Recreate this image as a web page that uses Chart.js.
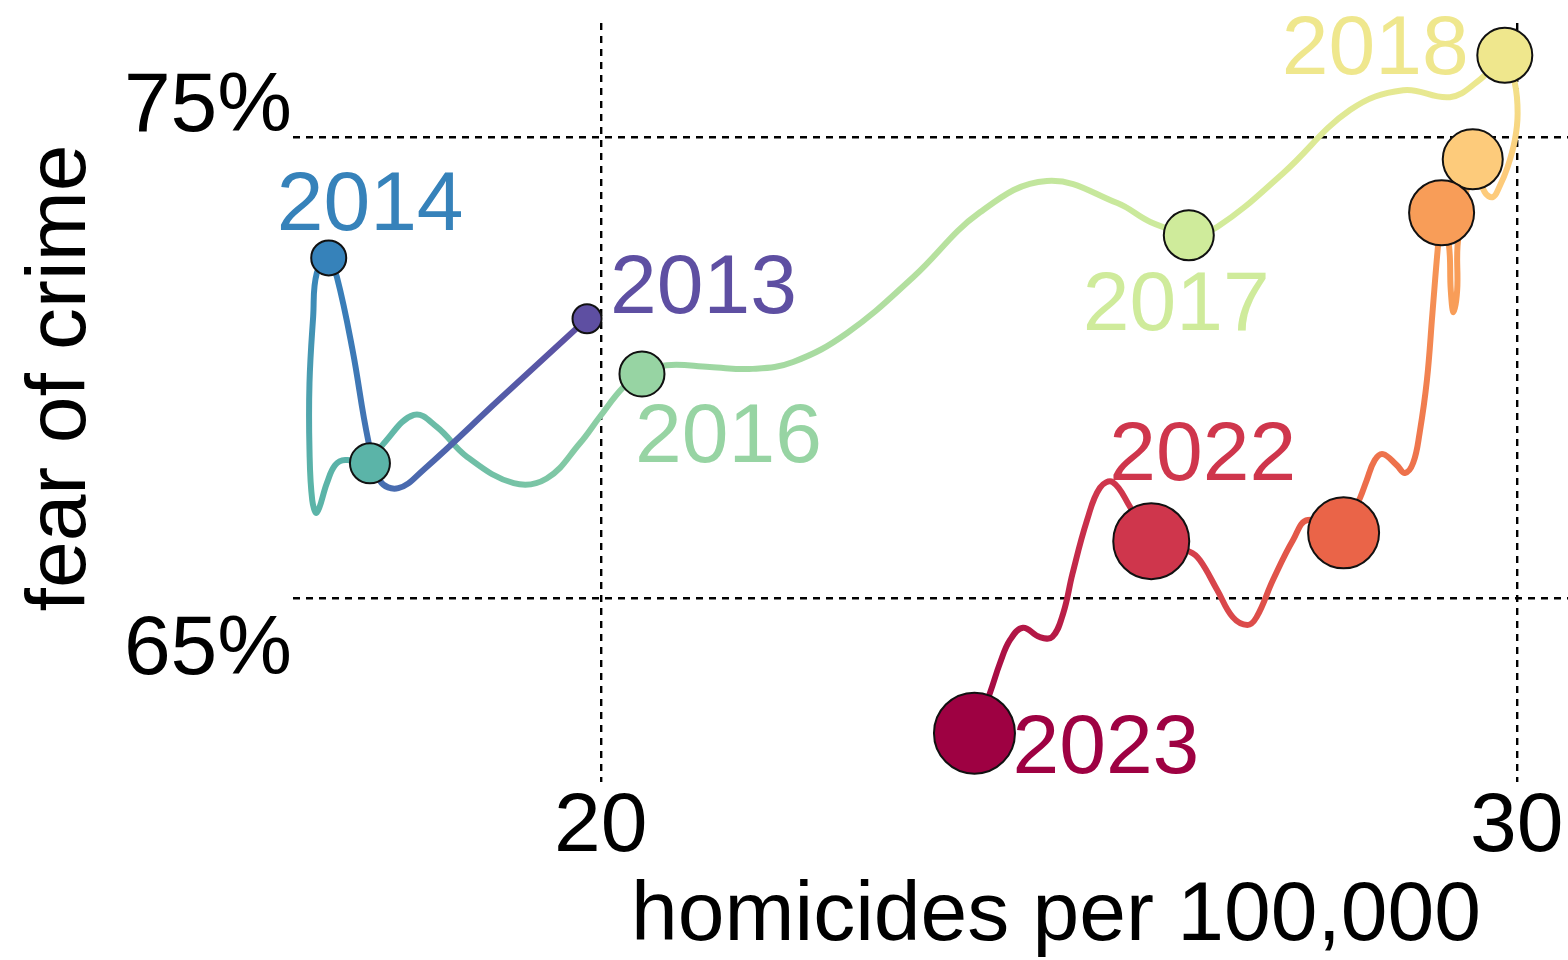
<!DOCTYPE html>
<html>
<head>
<meta charset="utf-8">
<script src="https://cdn.jsdelivr.net/npm/chart.js@4.4.1/dist/chart.umd.min.js"></script>
<style>
  html, body { margin: 0; padding: 0; background: #ffffff; overflow: hidden; }
  #wrap { width: 1568px; height: 960px; position: relative; }
</style>
</head>
<body>
<div id="wrap"><canvas id="c" width="1568" height="960"></canvas></div>
<script>
// ---------- data ----------
const years = [2013, 2014, 2015, 2016, 2017, 2018, 2019, 2020, 2021, 2022, 2023];
const homicides = [19.85, 17.03, 17.48, 20.45, 26.42, 29.87, 29.52, 29.18, 28.11, 26.01, 24.08];
const fearOfCrime = [71.07, 72.39, 67.93, 69.87, 72.88, 76.79, 74.53, 73.37, 66.42, 66.24, 62.07];
const labelledYears = [2013, 2014, 2016, 2017, 2018, 2022, 2023];

// waypoints of the drawn trail between one year and the next
const trailX = [
  [18.90, 18.06, 17.79, 17.59, 17.46, 17.29, 17.12],
  [16.90, 16.86, 16.82, 16.82, 16.85, 16.90, 17.01, 17.10, 17.21],
  [17.63, 17.96, 18.21, 18.54, 19.05, 19.41, 19.77, 19.99, 20.25],
  [20.72, 21.19, 21.66, 22.10, 22.69, 23.41, 24.14, 24.87, 25.64, 26.00],
  [26.73, 27.45, 28.18, 28.76, 29.27, 29.56],
  [29.98, 30.01, 29.98, 29.90, 29.81, 29.74, 29.65],
  [29.36, 29.35, 29.31, 29.28, 29.26],
  [29.14, 29.08, 29.02, 28.94, 28.87, 28.78, 28.69, 28.54, 28.45, 28.36, 28.29],
  [27.72, 27.56, 27.34, 27.16, 27.06, 26.90, 26.73, 26.54, 26.43],
  [25.78, 25.59, 25.45, 25.31, 25.15, 25.05, 24.93, 24.79, 24.61, 24.47, 24.36, 24.25]
];
const trailY = [
  [69.33, 67.78, 67.39, 67.55, 68.44, 70.39, 71.97],
  [72.06, 71.11, 69.67, 68.22, 67.13, 66.86, 67.50, 67.89, 68.00],
  [68.36, 68.98, 68.72, 68.07, 67.50, 67.60, 68.36, 68.94, 69.59],
  [70.06, 70.02, 69.98, 70.13, 70.76, 71.97, 73.38, 74.06, 73.58, 73.17],
  [73.06, 74.23, 75.60, 76.03, 75.88, 76.20],
  [76.18, 75.53, 74.95, 74.36, 73.93, 73.71, 73.82],
  [72.78, 71.69, 71.21, 71.69, 72.67],
  [72.63, 71.19, 69.74, 68.59, 67.94, 67.72, 67.89, 68.13, 68.00, 67.55, 67.18],
  [66.70, 66.27, 65.40, 64.59, 64.42, 64.59, 65.18, 65.83, 66.01],
  [66.98, 67.52, 67.40, 66.70, 65.53, 64.68, 64.16, 64.16, 64.36, 64.10, 63.60, 62.95]
];

const xTickValues = [20, 30];
const yTickValues = [65, 75];
const yTickLabels = ['65%', '75%'];

// ---------- styles ----------
const FONT = '"Liberation Sans", Arial, Helvetica, sans-serif';
const FS = 84;
const TRAIL_WIDTH = 6;
const GRID_WIDTH = 2.4;
const yearColors = ['#5e4fa2', '#3682ba', '#5bb4a8', '#97d4a3', '#cfeb9b', '#efe78d',
                    '#fdcb7b', '#f89d58', '#ea6448', '#cf364c', '#9e0142'];
const markerRadii = [14.5, 17.5, 20, 22.5, 25, 27.5, 30, 32.5, 35.5, 38, 40.5];
// label anchor offsets (px) relative to the marker centre: left edge / baseline
const labelOffsets = {
  2013: [23, -6], 2014: [-52, -28], 2016: [-7, 88], 2017: [-106, 95],
  2018: [-223, 19], 2022: [-42, -61], 2023: [38, 40]
};

const markers = years.map((y, i) => ({ x: homicides[i], y: fearOfCrime[i] }));

// one line dataset per year-to-year stretch, coloured with a gradient between the two years
const trailDatasets = [];
for (let i = 0; i < years.length - 1; i++) {
  const pts = [{ x: homicides[i], y: fearOfCrime[i] }];
  trailX[i].forEach((xv, k) => pts.push({ x: xv, y: trailY[i][k] }));
  pts.push({ x: homicides[i + 1], y: fearOfCrime[i + 1] });
  trailDatasets.push({
    type: 'line',
    data: pts,
    order: 1,
    clip: false,
    fill: false,
    tension: 0.4,
    borderWidth: TRAIL_WIDTH,
    borderCapStyle: 'round',
    borderJoinStyle: 'round',
    pointRadius: 0,
    pointHoverRadius: 0,
    pointHitRadius: 0,
    borderColor: (c) => {
      const chart = c.chart;
      if (!chart.chartArea || !chart.scales.x) return yearColors[i];
      const xs = chart.scales.x, ys = chart.scales.y;
      const g = chart.ctx.createLinearGradient(
        xs.getPixelForValue(homicides[i]), ys.getPixelForValue(fearOfCrime[i]),
        xs.getPixelForValue(homicides[i + 1]), ys.getPixelForValue(fearOfCrime[i + 1]));
      g.addColorStop(0, yearColors[i]);
      g.addColorStop(1, yearColors[i + 1]);
      return g;
    }
  });
}

const annotationPlugin = {
  id: 'annotations',
  afterDatasetsDraw(chart) {
    const ctx = chart.ctx;
    const xs = chart.scales.x, ys = chart.scales.y;
    ctx.save();
    ctx.font = FS + 'px ' + FONT;
    ctx.textAlign = 'left';
    ctx.textBaseline = 'alphabetic';
    labelledYears.forEach(yr => {
      const i = years.indexOf(yr);
      const off = labelOffsets[yr];
      ctx.fillStyle = yearColors[i];
      ctx.fillText(String(yr), xs.getPixelForValue(homicides[i]) + off[0],
                   ys.getPixelForValue(fearOfCrime[i]) + off[1]);
    });
    // axis titles
    ctx.fillStyle = '#000000';
    ctx.textAlign = 'center';
    ctx.fillText('homicides per 100,000', 1056, 940);
    ctx.translate(85, 378);
    ctx.rotate(-Math.PI / 2);
    ctx.fillText('fear of crime', 0, 0);
    ctx.restore();
  }
};

new Chart(document.getElementById('c'), {
  type: 'scatter',
  data: {
    datasets: [
      {
        type: 'scatter',
        data: markers,
        order: 0,
        clip: false,
        pointRadius: markerRadii,
        pointHoverRadius: markerRadii,
        pointBackgroundColor: yearColors,
        pointBorderColor: '#111111',
        pointBorderWidth: 2,
        pointHoverBorderWidth: 2
      }
    ].concat(trailDatasets)
  },
  options: {
    responsive: false,
    animation: false,
    devicePixelRatio: 1,
    layout: { autoPadding: false, padding: { top: 23, left: 0, right: 0, bottom: 0 } },
    plugins: { legend: { display: false }, tooltip: { enabled: false } },
    scales: {
      x: {
        type: 'linear',
        min: 16.64,
        max: 30.56,
        afterBuildTicks: (s) => { s.ticks = xTickValues.map(v => ({ value: v })); },
        afterFit: (s) => { s.height = 178; s.paddingLeft = 0; s.paddingRight = 0; },
        grid: { color: '#000000', lineWidth: GRID_WIDTH, drawTicks: false },
        border: { display: false, dash: [7, 6] },
        ticks: {
          color: '#000000',
          padding: 4,
          maxRotation: 0,
          autoSkip: false,
          font: { family: FONT, size: FS, lineHeight: 1 },
          callback: (v) => String(v)
        }
      },
      y: {
        type: 'linear',
        min: 61.01,
        max: 77.49,
        afterBuildTicks: (s) => { s.ticks = yTickValues.map(v => ({ value: v })); },
        afterFit: (s) => { s.width = 293; s.paddingTop = 0; s.paddingBottom = 0; },
        grid: { color: '#000000', lineWidth: GRID_WIDTH, drawTicks: false },
        border: { display: false, dash: [7, 6] },
        ticks: {
          color: '#000000',
          padding: 1,
          autoSkip: false,
          font: (c) => ({
            family: FONT,
            size: FS,
            lineHeight: (c.tick && c.tick.value === 75) ? '60px' : '106px'
          }),
          callback: (v) => {
            const lab = yTickLabels[yTickValues.indexOf(v)];
            return v === 75 ? [lab, ''] : ['', lab];
          }
        }
      }
    }
  },
  plugins: [annotationPlugin]
});
</script>
</body>
</html>
